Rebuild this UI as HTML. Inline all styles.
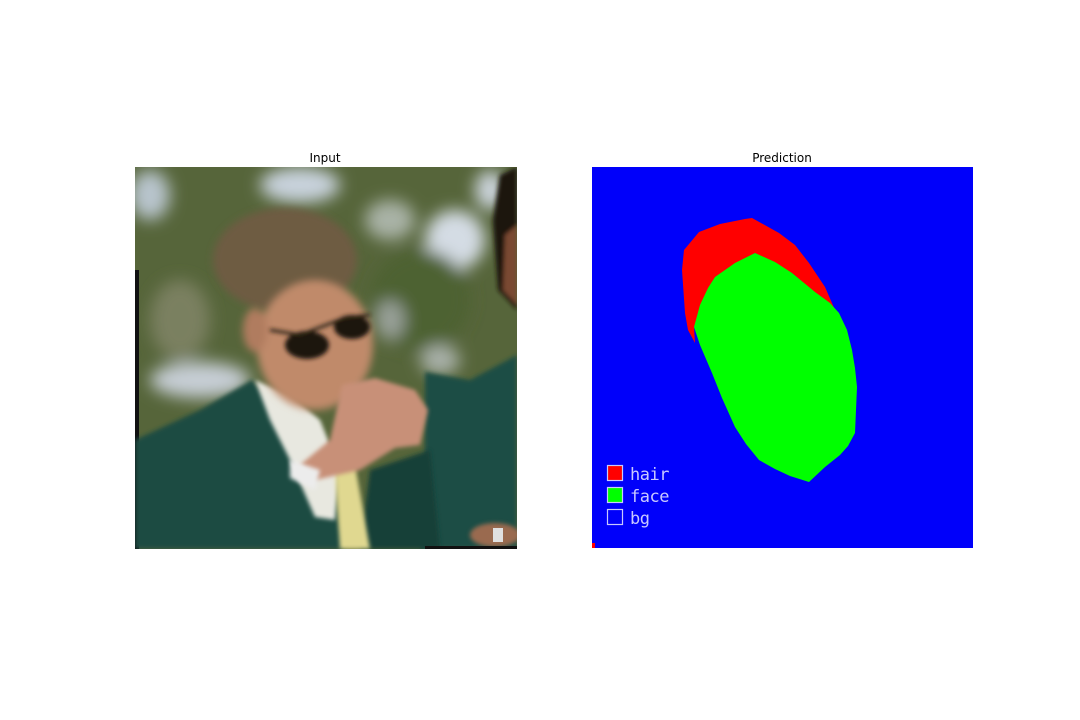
<!DOCTYPE html>
<html><head><meta charset="utf-8"><style>
html,body{margin:0;padding:0;background:#fff;}
body{width:1080px;height:720px;position:relative;overflow:hidden;font-family:"DejaVu Sans","Liberation Sans",sans-serif;}
.title{position:absolute;font-size:12px;color:#000;transform:translateX(-50%);top:151px;}
</style></head><body>
<div class="title" style="left:325px">Input</div>
<div class="title" style="left:782px">Prediction</div>

<svg style="position:absolute;left:135px;top:167px" width="382" height="382" viewBox="135 167 382 382">
<defs>
<filter id="b8" x="-20%" y="-20%" width="140%" height="140%"><feGaussianBlur stdDeviation="8"/></filter>
<filter id="b4" x="-20%" y="-20%" width="140%" height="140%"><feGaussianBlur stdDeviation="4"/></filter>
<filter id="b2" x="-20%" y="-20%" width="140%" height="140%"><feGaussianBlur stdDeviation="2"/></filter>
<clipPath id="cp"><rect x="135" y="167" width="382" height="382"/></clipPath>
</defs>
<g clip-path="url(#cp)">
<rect x="135" y="167" width="382" height="382" fill="#56653a"/>
<g filter="url(#b8)">
<ellipse cx="300" cy="185" rx="40" ry="18" fill="#c8d2dc"/>
<ellipse cx="150" cy="195" rx="20" ry="25" fill="#b8c4cc"/>
<ellipse cx="455" cy="240" rx="30" ry="30" fill="#d4dce4"/>
<ellipse cx="490" cy="190" rx="15" ry="20" fill="#ccd4dc"/>
<ellipse cx="390" cy="220" rx="25" ry="20" fill="#a9b2a6"/>
<ellipse cx="200" cy="380" rx="50" ry="18" fill="#c6cdd4"/>
<ellipse cx="180" cy="320" rx="30" ry="40" fill="#7a8060"/>
<ellipse cx="420" cy="300" rx="50" ry="50" fill="#4e6232"/>
<ellipse cx="440" cy="360" rx="20" ry="15" fill="#a8b0a8"/>
<ellipse cx="390" cy="320" rx="15" ry="20" fill="#98a098"/>
</g>
<rect x="135" y="270" width="4" height="279" fill="#111"/>
<g filter="url(#b2)">
<path d="M517 167 L500 175 L493 220 L498 290 L517 310 Z" fill="#1c1410"/>
<path d="M517 225 L505 235 L503 290 L517 305 Z" fill="#7a4a30"/>
</g>
<path d="M425 372 L470 380 L517 355 L517 549 L420 549 L425 460 Z" fill="#1f4d44" filter="url(#b2)"/>
<path d="M135 440 L200 410 L252 380 L290 420 L330 470 L345 549 L135 549 Z" fill="#1e4c43" filter="url(#b2)"/>
<path d="M370 470 L430 450 L440 549 L360 549 Z" fill="#173f37" filter="url(#b2)"/>
<path d="M255 380 L290 395 L320 420 L340 470 L335 520 L315 517 L290 460 L270 420 Z" fill="#e8e8e0" filter="url(#b2)"/>
<path d="M335 470 L355 465 L370 549 L340 549 Z" fill="#e0d890" filter="url(#b2)"/>
<ellipse cx="285" cy="260" rx="72" ry="52" fill="#6e5c42" filter="url(#b4)"/>
<g filter="url(#b4)">
<ellipse cx="315" cy="345" rx="58" ry="65" fill="#c08a6a"/>
<ellipse cx="255" cy="330" rx="12" ry="22" fill="#b07c5e"/>
</g>
<g filter="url(#b2)">
<ellipse cx="307" cy="345" rx="22" ry="14" fill="#1a1210"/>
<ellipse cx="352" cy="327" rx="18" ry="12" fill="#1a1210"/>
<path d="M270 330 L300 335 L345 318 L370 315" stroke="#2a2018" stroke-width="3" fill="none"/>
</g>
<path d="M342 385 L375 378 L415 390 L428 410 L420 445 L395 448 L360 470 L315 480 L300 465 L330 440 Z" fill="#c89078" filter="url(#b2)"/>
<path d="M290 460 L320 470 L315 490 L290 478 Z" fill="#ececec" filter="url(#b2)"/>
<ellipse cx="495" cy="535" rx="25" ry="12" fill="#9a6a50" filter="url(#b2)"/>
<rect x="493" y="528" width="10" height="14" fill="#e0e0e0"/>
<rect x="425" y="546" width="92" height="3" fill="#111"/>
</g>
</svg>

<svg style="position:absolute;left:592px;top:167px" width="381" height="381" viewBox="592 167 381 381">
<rect x="592" y="167" width="381" height="381" fill="#0000fa"/>
<polygon fill="#ff0000"
 points="682,270 684,250 699,232 720,224 745,219 752,218 779,233 795,245 809,263 825,287 835,310 839,313 792,273 755,253 715,277 694,327 695,343 688,330 685,313"/>
<polygon fill="#00ff00"
 points="694,327 700,305 708,288 715,277 735,263 755,253 775,262 792,273 815,292 830,303 839,313 847,330 852,350 855,368 857,387 856,410 855,433 848,446 840,455 825,467 809,482 790,476 775,469 759,460 746,444 735,427 722,398 712,373 700,345"/>
<rect x="592" y="543" width="3" height="5" fill="#ff0000"/>
<g font-family="'DejaVu Sans Mono','Liberation Mono',monospace" font-size="17" fill="#c8c8ff" letter-spacing="-0.5">
<rect x="607.5" y="465.5" width="15" height="15" fill="#ff0000" stroke="#c8c8ff" stroke-width="1.2"/>
<text x="630" y="480">hair</text>
<rect x="607.5" y="487.5" width="15" height="15" fill="#00ff00" stroke="#c8c8ff" stroke-width="1.2"/>
<text x="630" y="502">face</text>
<rect x="607.5" y="509.5" width="15" height="15" fill="#0000fa" stroke="#c8c8ff" stroke-width="1.2"/>
<text x="630" y="524">bg</text>
</g>
</svg>
</body></html>
